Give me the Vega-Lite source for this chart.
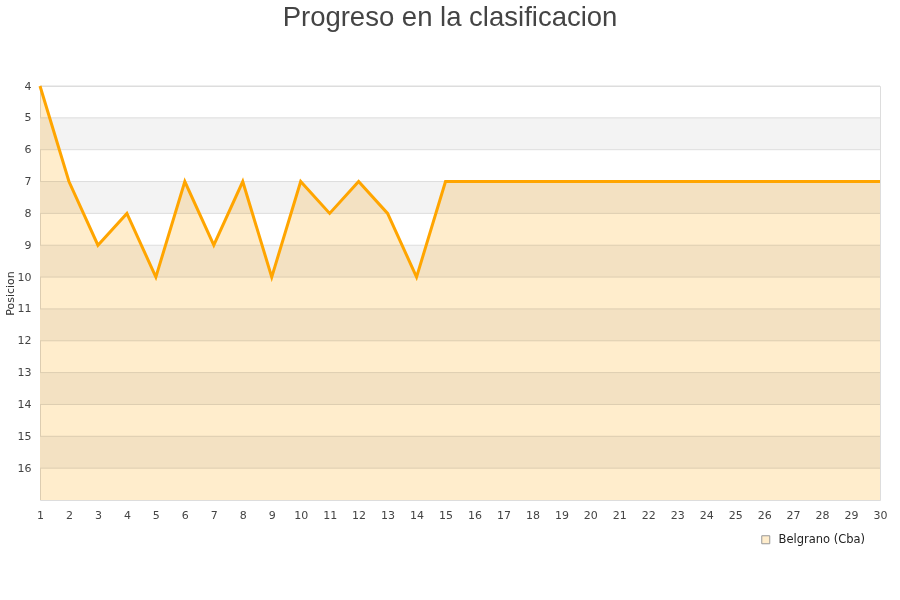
{
  "$schema": "https://vega.github.io/schema/vega-lite/v6.json",
  "autosize": "none",
  "width": 840,
  "height": 414,
  "padding": {"left": 40, "top": 86, "right": 20, "bottom": 100},
  "background": "white",
  "title": {
    "text": "Progreso en la clasificacion",
    "font": "Liberation Sans",
    "fontSize": 27.5,
    "fontWeight": "normal",
    "color": "#444444",
    "anchor": "middle",
    "frame": "group",
    "dx": -10,
    "offset": 49
  },
  "config": {
    "view": {"stroke": "#dddddd"},
    "axis": {
      "labelFont": "DejaVu Sans",
      "labelFontSize": 11,
      "labelColor": "#444444",
      "labelOverlap": false,
      "titleFont": "DejaVu Sans",
      "titleFontSize": 11,
      "titleFontWeight": "normal",
      "titleColor": "#333333",
      "domain": false,
      "ticks": false,
      "grid": false
    }
  },
  "datasets": {
    "franjas": [
      {"desde": 5, "hasta": 6},
      {"desde": 7, "hasta": 8},
      {"desde": 9, "hasta": 10},
      {"desde": 11, "hasta": 12},
      {"desde": 13, "hasta": 14},
      {"desde": 15, "hasta": 16}
    ],
    "lineas": [
      {"p": 4}, {"p": 5}, {"p": 6}, {"p": 7}, {"p": 8}, {"p": 9}, {"p": 10},
      {"p": 11}, {"p": 12}, {"p": 13}, {"p": 14}, {"p": 15}, {"p": 16}
    ],
    "campania": [
      {"jornada": 1, "posicion": 4, "equipo": "Belgrano (Cba)"},
      {"jornada": 2, "posicion": 7, "equipo": "Belgrano (Cba)"},
      {"jornada": 3, "posicion": 9, "equipo": "Belgrano (Cba)"},
      {"jornada": 4, "posicion": 8, "equipo": "Belgrano (Cba)"},
      {"jornada": 5, "posicion": 10, "equipo": "Belgrano (Cba)"},
      {"jornada": 6, "posicion": 7, "equipo": "Belgrano (Cba)"},
      {"jornada": 7, "posicion": 9, "equipo": "Belgrano (Cba)"},
      {"jornada": 8, "posicion": 7, "equipo": "Belgrano (Cba)"},
      {"jornada": 9, "posicion": 10, "equipo": "Belgrano (Cba)"},
      {"jornada": 10, "posicion": 7, "equipo": "Belgrano (Cba)"},
      {"jornada": 11, "posicion": 8, "equipo": "Belgrano (Cba)"},
      {"jornada": 12, "posicion": 7, "equipo": "Belgrano (Cba)"},
      {"jornada": 13, "posicion": 8, "equipo": "Belgrano (Cba)"},
      {"jornada": 14, "posicion": 10, "equipo": "Belgrano (Cba)"},
      {"jornada": 15, "posicion": 7, "equipo": "Belgrano (Cba)"},
      {"jornada": 16, "posicion": 7, "equipo": "Belgrano (Cba)"},
      {"jornada": 17, "posicion": 7, "equipo": "Belgrano (Cba)"},
      {"jornada": 18, "posicion": 7, "equipo": "Belgrano (Cba)"},
      {"jornada": 19, "posicion": 7, "equipo": "Belgrano (Cba)"},
      {"jornada": 20, "posicion": 7, "equipo": "Belgrano (Cba)"},
      {"jornada": 21, "posicion": 7, "equipo": "Belgrano (Cba)"},
      {"jornada": 22, "posicion": 7, "equipo": "Belgrano (Cba)"},
      {"jornada": 23, "posicion": 7, "equipo": "Belgrano (Cba)"},
      {"jornada": 24, "posicion": 7, "equipo": "Belgrano (Cba)"},
      {"jornada": 25, "posicion": 7, "equipo": "Belgrano (Cba)"},
      {"jornada": 26, "posicion": 7, "equipo": "Belgrano (Cba)"},
      {"jornada": 27, "posicion": 7, "equipo": "Belgrano (Cba)"},
      {"jornada": 28, "posicion": 7, "equipo": "Belgrano (Cba)"},
      {"jornada": 29, "posicion": 7, "equipo": "Belgrano (Cba)"},
      {"jornada": 30, "posicion": 7, "equipo": "Belgrano (Cba)"}
    ]
  },
  "resolve": {"scale": {"y": "shared", "x": "shared"}},
  "layer": [
    {
      "data": {"name": "franjas"},
      "mark": {"type": "rect", "fill": "#f3f3f3"},
      "encoding": {
        "y": {
          "field": "desde",
          "type": "quantitative",
          "scale": {"domain": [4, 17], "reverse": true, "nice": false, "zero": false},
          "axis": {
            "title": "Posicion",
            "values": [4, 5, 6, 7, 8, 9, 10, 11, 12, 13, 14, 15, 16],
            "tickCount": 40,
            "format": "d",
            "labelOverlap": false,
            "labelPadding": 9,
            "titlePadding": 2
          }
        },
        "y2": {"field": "hasta"}
      }
    },
    {
      "data": {"name": "lineas"},
      "mark": {"type": "rule", "stroke": "#dddddd", "strokeWidth": 1},
      "encoding": {
        "y": {"field": "p", "type": "quantitative"}
      }
    },
    {
      "data": {"name": "campania"},
      "mark": {"type": "area", "blend": "multiply", "interpolate": "linear"},
      "encoding": {
        "x": {
          "field": "jornada",
          "type": "quantitative",
          "scale": {"domain": [1, 30], "nice": false, "zero": false},
          "axis": {
            "title": null,
            "values": [1, 2, 3, 4, 5, 6, 7, 8, 9, 10, 11, 12, 13, 14, 15, 16, 17, 18, 19, 20, 21, 22, 23, 24, 25, 26, 27, 28, 29, 30],
            "tickCount": 60,
            "format": "d",
            "labelOverlap": false,
            "labelPadding": 9,
            "labelFlush": false
          }
        },
        "y": {"field": "posicion", "type": "quantitative"},
        "y2": {"datum": 17},
        "fill": {
          "field": "equipo",
          "type": "nominal",
          "scale": {"range": ["#FFEDCC"]},
          "legend": {
            "title": null,
            "orient": "none",
            "legendX": 720,
            "legendY": 448,
            "padding": 0,
            "symbolType": "square",
            "symbolSize": 64,
            "symbolStrokeColor": "#999999",
            "symbolStrokeWidth": 1,
            "symbolOpacity": 1,
            "labelFont": "DejaVu Sans",
            "labelFontSize": 11.5,
            "labelColor": "#222222",
            "labelOffset": 7
          }
        }
      }
    },
    {
      "data": {"name": "campania"},
      "mark": {"type": "line", "stroke": "#FFA500", "strokeWidth": 3, "strokeJoin": "miter"},
      "encoding": {
        "x": {"field": "jornada", "type": "quantitative"},
        "y": {"field": "posicion", "type": "quantitative"}
      }
    }
  ]
}
